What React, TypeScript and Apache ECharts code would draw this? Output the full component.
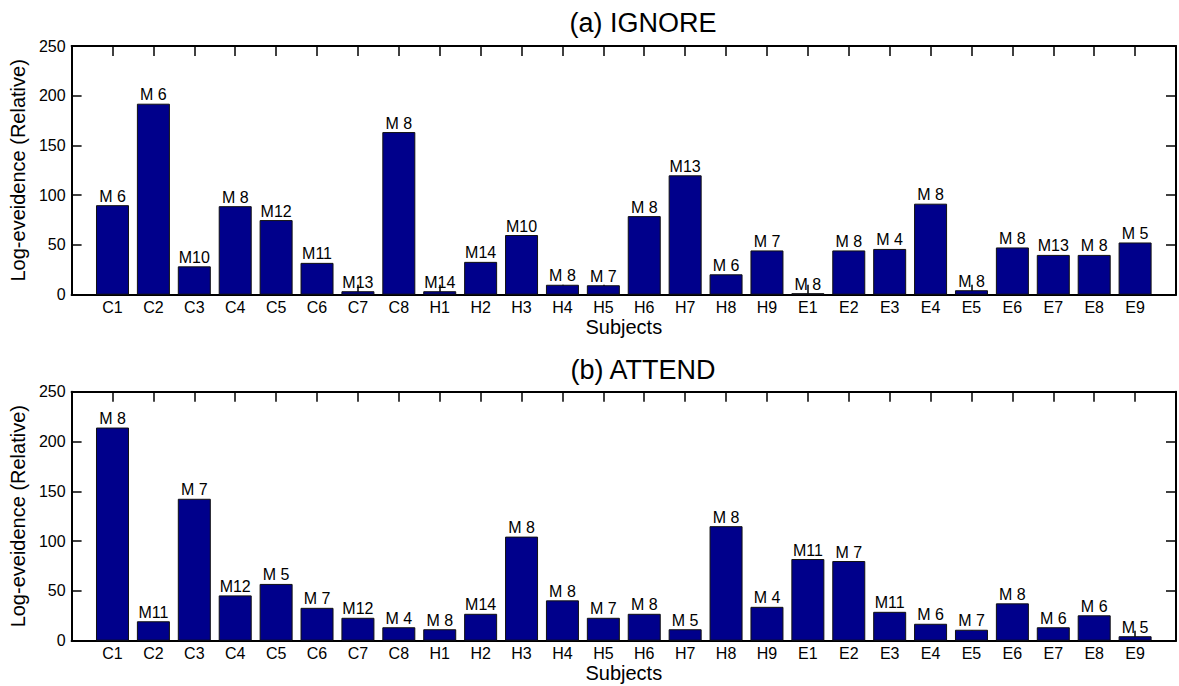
import React, { useEffect, useRef } from "react";
import * as echarts from "echarts";

const subjects = [
  "C1", "C2", "C3", "C4", "C5", "C6", "C7", "C8",
  "H1", "H2", "H3", "H4", "H5", "H6", "H7", "H8", "H9",
  "E1", "E2", "E3", "E4", "E5", "E6", "E7", "E8", "E9",
];

const ignoreValues = [
  90, 192, 28.5, 89, 75, 32, 3.5, 163.5,
  3.5, 33, 60, 10, 9.5, 79, 120, 20.5, 44.5,
  1.5, 44.5, 46, 91.5, 4.5, 47.5, 40, 40, 52.5,
];
const ignoreModels = [
  "M 6", "M 6", "M10", "M 8", "M12", "M11", "M13", "M 8",
  "M14", "M14", "M10", "M 8", "M 7", "M 8", "M13", "M 6", "M 7",
  "M 8", "M 8", "M 4", "M 8", "M 8", "M 8", "M13", "M 8", "M 5",
];

const attendValues = [
  214, 19.5, 142.5, 45.5, 57, 33, 23, 13.5,
  11.5, 27, 104.5, 40.5, 23, 27, 11.5, 115, 34,
  82, 80, 29, 17, 11, 37.5, 13.5, 25.5, 4.5,
];
const attendModels = [
  "M 8", "M11", "M 7", "M12", "M 5", "M 7", "M12", "M 4",
  "M 8", "M14", "M 8", "M 8", "M 7", "M 8", "M 5", "M 8", "M 4",
  "M11", "M 7", "M11", "M 6", "M 7", "M 8", "M 6", "M 6", "M 5",
];

const yTicks = { min: 0, max: 250, interval: 50 };
const titles = ["(a) IGNORE", "(b) ATTEND"];

const FONT = "'Liberation Sans', Arial, Helvetica, sans-serif";

export default function App() {
  const ref = useRef<HTMLDivElement>(null);

  useEffect(() => {
    if (!ref.current) return;
    const chart = echarts.init(ref.current, null, { renderer: "svg" });

    const cats = ["", ...subjects, ""];
    const grids = [
      { left: 66.5, top: 46, width: 1113.5, height: 248.7 },
      { left: 66.5, top: 391.7, width: 1113.5, height: 249 },
    ];

    const xAxes: any[] = [];
    const yAxes: any[] = [];
    grids.forEach((_, gi) => {
      xAxes.push({
        type: "category",
        gridIndex: gi,
        position: "bottom",
        data: cats,
        boundaryGap: false,
        name: "Subjects",
        nameLocation: "middle",
        nameGap: 21,
        nameTextStyle: { color: "#000", fontSize: 20, fontFamily: FONT },
        axisLine: { show: true, lineStyle: { color: "#000", width: 2 } },
        axisTick: { show: true, inside: true, length: 10, lineStyle: { color: "#000", width: 1.5 } },
        axisLabel: { show: true, interval: 0, margin: 5, color: "#000", fontSize: 16, fontFamily: FONT },
        splitLine: { show: false },
      });
      xAxes.push({
        type: "category",
        gridIndex: gi,
        position: "top",
        data: cats,
        boundaryGap: false,
        axisLine: { show: true, onZero: false, lineStyle: { color: "#000", width: 2 } },
        axisTick: { show: true, inside: true, interval: 0, length: 10, lineStyle: { color: "#000", width: 1.5 } },
        axisLabel: { show: false },
        splitLine: { show: false },
      });
      yAxes.push({
        type: "value",
        gridIndex: gi,
        position: "left",
        min: yTicks.min,
        max: yTicks.max,
        interval: yTicks.interval,
        name: "Log-eveidence (Relative)",
        nameLocation: "middle",
        nameRotate: 90,
        nameGap: 36,
        nameTextStyle: { color: "#000", fontSize: 20, fontFamily: FONT },
        axisLine: { show: true, lineStyle: { color: "#000", width: 2 } },
        axisTick: { show: true, inside: true, length: 10, lineStyle: { color: "#000", width: 1.5 } },
        axisLabel: { show: true, margin: 6, color: "#000", fontSize: 16, fontFamily: FONT },
        splitLine: { show: false },
      });
      yAxes.push({
        type: "value",
        gridIndex: gi,
        position: "right",
        min: yTicks.min,
        max: yTicks.max,
        interval: yTicks.interval,
        axisLine: { show: true, onZero: false, lineStyle: { color: "#000", width: 2 } },
        axisTick: { show: true, inside: true, length: 10, lineStyle: { color: "#000", width: 1.5 } },
        axisLabel: { show: false },
        splitLine: { show: false },
      });
    });

    const makeSeries = (values: number[], models: string[], gi: number) => ({
      type: "bar",
      xAxisIndex: gi * 2,
      yAxisIndex: gi * 2,
      data: ["-", ...values, "-"],
      barWidth: 33,
      itemStyle: { color: "#00008B", borderColor: "#111", borderWidth: 1 },
      label: {
        show: true,
        position: "top",
        distance: 1,
        color: "#000",
        fontSize: 16,
        fontFamily: FONT,
        formatter: (p: any) => models[p.dataIndex - 1] ?? "",
      },
      z: 3,
    });

    chart.setOption({
      animation: false,
      backgroundColor: "#fff",
      grid: grids,
      xAxis: xAxes,
      yAxis: yAxes,
      series: [
        makeSeries(ignoreValues, ignoreModels, 0),
        makeSeries(attendValues, attendModels, 1),
      ],
      graphic: [
        {
          type: "text",
          x: 643,
          y: 23,
          style: { text: titles[0], fontSize: 27, fontFamily: FONT, fill: "#000", textAlign: "center", textVerticalAlign: "middle" },
        },
        {
          type: "text",
          x: 643,
          y: 370,
          style: { text: titles[1], fontSize: 27, fontFamily: FONT, fill: "#000", textAlign: "center", textVerticalAlign: "middle" },
        },
      ],
    });

    return () => chart.dispose();
  }, []);

  return (
    <div
      ref={ref}
      style={{ position: "absolute", left: 0, top: 0, width: 1179, height: 686, background: "#fff" }}
    />
  );
}
